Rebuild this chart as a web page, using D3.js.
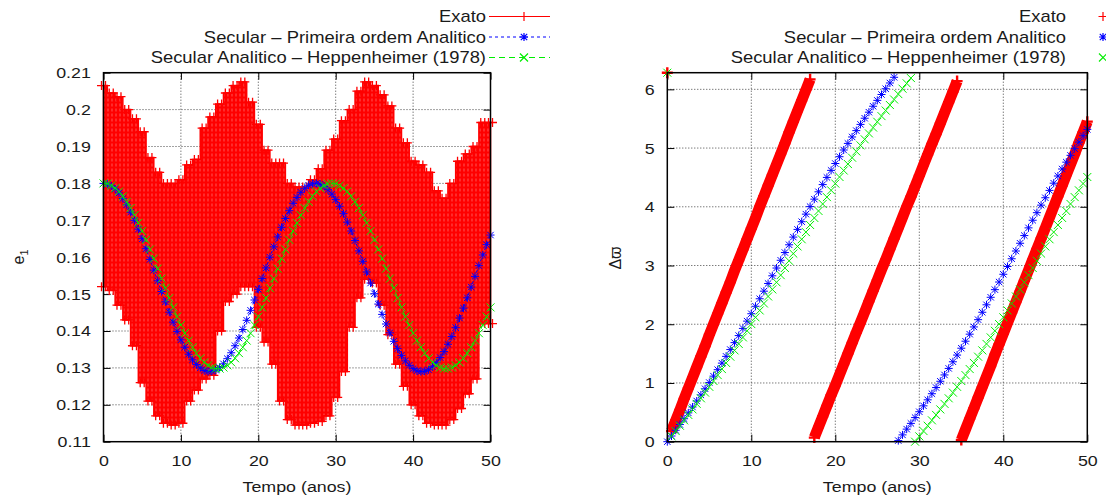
<!DOCTYPE html>
<html>
<head>
<meta charset="utf-8">
<script src="https://cdn.jsdelivr.net/npm/d3@7"></script>
<style>
  body { margin: 0; background: #fff; }
  svg text { font-family: 'Liberation Sans', Arial, Helvetica, sans-serif; fill: #1a1a1a; }
</style>
</head>
<body>
<div id="app"></div>
<script>
'use strict'

// amostras no tempo (anos)
const tempo = d3.range(0, 50.01, 0.5)
const tempoExato = d3.range(0, 50.01, 1)

// e1 - secular, primeira ordem analitico
const e1Secular = [
  0.1800, 0.1798, 0.1793, 0.1785, 0.1774, 0.1759, 0.1742, 0.1722, 0.1700, 0.1676,
  0.1650, 0.1623, 0.1594, 0.1565, 0.1536, 0.1507, 0.1479, 0.1451, 0.1424, 0.1399,
  0.1376, 0.1356, 0.1337, 0.1322, 0.1309, 0.1300, 0.1293, 0.1290, 0.1291, 0.1294,
  0.1301, 0.1311, 0.1325, 0.1341, 0.1360, 0.1381, 0.1404, 0.1429, 0.1456, 0.1484,
  0.1513, 0.1542, 0.1571, 0.1600, 0.1628, 0.1655, 0.1681, 0.1705, 0.1726, 0.1746,
  0.1762, 0.1776, 0.1787, 0.1795, 0.1799, 0.1800, 0.1798, 0.1792, 0.1783, 0.1771,
  0.1756, 0.1738, 0.1718, 0.1695, 0.1671, 0.1645, 0.1617, 0.1589, 0.1560, 0.1530,
  0.1501, 0.1473, 0.1445, 0.1419, 0.1395, 0.1372, 0.1352, 0.1334, 0.1319, 0.1307,
  0.1298, 0.1292, 0.1290, 0.1291, 0.1295, 0.1303, 0.1314, 0.1328, 0.1344, 0.1364,
  0.1385, 0.1409, 0.1435, 0.1462, 0.1490, 0.1519, 0.1548, 0.1577, 0.1606, 0.1634,
  0.1660
]

// e1 - Heppenheimer (1978)
const e1Heppenheimer = [
  0.1800, 0.1799, 0.1794, 0.1787, 0.1778, 0.1765, 0.1750, 0.1733, 0.1714, 0.1693,
  0.1671, 0.1647, 0.1621, 0.1596, 0.1569, 0.1542, 0.1516, 0.1489, 0.1464, 0.1439,
  0.1416, 0.1394, 0.1374, 0.1356, 0.1340, 0.1326, 0.1315, 0.1307, 0.1301, 0.1298,
  0.1298, 0.1301, 0.1307, 0.1315, 0.1326, 0.1340, 0.1356, 0.1374, 0.1394, 0.1416,
  0.1439, 0.1464, 0.1489, 0.1516, 0.1542, 0.1569, 0.1596, 0.1621, 0.1647, 0.1671,
  0.1693, 0.1714, 0.1733, 0.1750, 0.1765, 0.1778, 0.1787, 0.1794, 0.1799,
  0.1800, 0.1799, 0.1794, 0.1787, 0.1778, 0.1765, 0.1750, 0.1733, 0.1714, 0.1693,
  0.1671, 0.1647, 0.1621, 0.1596, 0.1569, 0.1542, 0.1516, 0.1489, 0.1464, 0.1439,
  0.1416, 0.1394, 0.1374, 0.1356, 0.1340, 0.1326, 0.1315, 0.1307, 0.1301, 0.1298,
  0.1298, 0.1301, 0.1307, 0.1315, 0.1326, 0.1340, 0.1356, 0.1374, 0.1394, 0.1416,
  0.1439, 0.1464
]

// e1 exato: faixa coberta pela oscilacao rapida (topo e base, a cada ano)
const e1ExatoMax = [
  0.2065, 0.2045, 0.2035, 0.2000, 0.1975, 0.1940, 0.1870, 0.1830, 0.1800, 0.1800,
  0.1810, 0.1850, 0.1865, 0.1950, 0.1980, 0.2015, 0.2045, 0.2065, 0.2075, 0.2020,
  0.1960, 0.1890, 0.1855, 0.1855, 0.1800, 0.1790, 0.1790, 0.1810, 0.1840, 0.1890,
  0.1920, 0.1970, 0.2000, 0.2050, 0.2075, 0.2065, 0.2040, 0.2010, 0.1950, 0.1910,
  0.1860, 0.1850, 0.1830, 0.1780, 0.1760, 0.1800, 0.1860, 0.1880, 0.1900, 0.1965,
  0.1965
]
const e1ExatoMin = [
  0.1520, 0.1510, 0.1470, 0.1430, 0.1360, 0.1260, 0.1210, 0.1170, 0.1150, 0.1145,
  0.1150, 0.1210, 0.1240, 0.1270, 0.1280, 0.1400, 0.1480, 0.1500, 0.1520, 0.1520,
  0.1410, 0.1370, 0.1310, 0.1210, 0.1160, 0.1145, 0.1145, 0.1150, 0.1155, 0.1170,
  0.1220, 0.1290, 0.1410, 0.1490, 0.1540, 0.1530, 0.1470, 0.1390, 0.1310, 0.1250,
  0.1200, 0.1170, 0.1150, 0.1145, 0.1145, 0.1160, 0.1190, 0.1230, 0.1270, 0.1420,
  0.1420
]

// delta varpi (rad), de 0 a 2pi
const dwSecular = [
  0, 0.097, 0.195, 0.293, 0.391, 0.491, 0.591, 0.693, 0.796, 0.901,
  1.007, 1.116, 1.226, 1.338, 1.453, 1.569, 1.687, 1.807, 1.929, 2.053,
  2.179, 2.306, 2.434, 2.563, 2.694, 2.825, 2.957, 3.089, 3.221, 3.353,
  3.484, 3.615, 3.746, 3.875, 4.003, 4.130, 4.255, 4.378, 4.500, 4.620,
  4.737, 4.853, 4.967, 5.079, 5.189, 5.297, 5.403, 5.508, 5.611, 5.712,
  5.812, 5.912, 6.010, 6.108, 6.205, 0.019, 0.116, 0.214, 0.312, 0.411,
  0.510, 0.611, 0.713, 0.817, 0.922, 1.029, 1.137, 1.248, 1.361, 1.475,
  1.592, 1.711, 1.831, 1.954, 2.078, 2.204, 2.331, 2.459, 2.589, 2.719,
  2.851, 2.983, 3.115, 3.247, 3.379, 3.510, 3.641, 3.771, 3.900, 4.028,
  4.154, 4.279, 4.402, 4.524, 4.643, 4.760, 4.876, 4.989, 5.101, 5.210,
  5.318
]
const dwHeppenheimer = [
  6.283, 0.091, 0.181, 0.272, 0.364, 0.456, 0.550, 0.644, 0.739, 0.836,
  0.934, 1.033, 1.134, 1.237, 1.341, 1.448, 1.555, 1.665, 1.776, 1.888,
  2.003, 2.118, 2.235, 2.354, 2.473, 2.593, 2.714, 2.836, 2.958, 3.080,
  3.203, 3.325, 3.447, 3.569, 3.690, 3.810, 3.929, 4.048, 4.165, 4.280,
  4.395, 4.507, 4.618, 4.728, 4.836, 4.942, 5.046, 5.149, 5.250, 5.349,
  5.447, 5.544, 5.639, 5.733, 5.827, 5.919, 6.011, 6.102, 6.192, 0.000,
  0.091, 0.181, 0.272, 0.364, 0.456, 0.550, 0.644, 0.739, 0.836, 0.934,
  1.033, 1.134, 1.237, 1.341, 1.448, 1.555, 1.665, 1.776, 1.888, 2.003,
  2.118, 2.235, 2.354, 2.473, 2.593, 2.714, 2.836, 2.958, 3.080, 3.203,
  3.325, 3.447, 3.569, 3.690, 3.810, 3.929, 4.048, 4.165, 4.280, 4.395,
  4.507
]
const dwExato = [
  6.283, 0.18, 0.36, 0.54, 0.73, 0.91, 1.09, 1.27, 1.45, 1.63,
  1.82, 2.00, 2.18, 2.36, 2.54, 2.72, 2.91, 3.09, 3.27, 3.45,
  3.63, 3.81, 4.00, 4.18, 4.36, 4.54, 4.72, 4.90, 5.08, 5.27,
  5.45, 5.63, 5.81, 5.99, 6.17, 0.07, 0.25, 0.43, 0.61, 0.79,
  0.96, 1.14, 1.32, 1.50, 1.68, 1.86, 2.03, 2.21, 2.39, 2.57,
  2.75, 2.93, 3.10, 3.28, 3.46, 3.64, 3.82, 4.00, 4.17, 4.35,
  4.53, 4.71, 4.89, 5.07, 5.24, 5.42, 5.60, 5.78, 5.96, 6.14,
  0.03, 0.21, 0.39, 0.57, 0.75, 0.93, 1.11, 1.29, 1.48, 1.66,
  1.84, 2.02, 2.20, 2.38, 2.56, 2.74, 2.92, 3.10, 3.28, 3.46,
  3.64, 3.82, 4.00, 4.18, 4.36, 4.54, 4.72, 4.90, 5.09, 5.27,
  5.45
]

const tempoTicks = [0, 10, 20, 30, 40, 50]
const e1Ticks = [0.11, 0.12, 0.13, 0.14, 0.15, 0.16, 0.17, 0.18, 0.19, 0.2, 0.21]
const dwTicks = [0, 1, 2, 3, 4, 5, 6]
const legenda = ['Exato', 'Secular \u2013 Primeira ordem Analitico', 'Secular Analitico \u2013 Heppenheimer (1978)']

const vermelho = '#ff0000'
const azul = '#0000ff'
const verde = '#00ee00'
const stretch = 'scale(1.15,1)'

const svg = d3.select('#app').append('svg')
  .attr('width', 1106)
  .attr('height', 502)

// textura de cruzes para a faixa do exato
const defs = svg.append('defs')
const pat = defs.append('pattern')
  .attr('id', 'cruzes')
  .attr('patternUnits', 'userSpaceOnUse')
  .attr('width', 4).attr('height', 5)
pat.append('rect').attr('width', 4).attr('height', 5).style('fill', '#ff3030')
pat.append('path').attr('d', 'M0,2.5H4M2,0V5')
  .style('stroke', vermelho).style('stroke-width', 2.2)

// simbolos do gnuplot
const simbolo = {
  plus: s => `M${-s},0H${s}M0,${-s}V${s}`,
  cross: s => `M${-s},${-s}L${s},${s}M${-s},${s}L${s},${-s}`,
  star: s => `M${-s},0H${s}M0,${-s}V${s}M${-s * 0.8},${-s * 0.8}L${s * 0.8},${s * 0.8}M${-s * 0.8},${s * 0.8}L${s * 0.8},${-s * 0.8}`
}

function pontos (g, xs, ys, x, y, tipo, tam, cor, larg, dx) {
  g.append('g').selectAll('path')
    .data(ys)
    .enter().append('path')
    .attr('transform', (d, i) => `translate(${x(xs[i]) + (dx || 0)},${y(d)})`)
    .attr('d', simbolo[tipo](tam))
    .style('fill', 'none')
    .style('stroke', cor)
    .style('stroke-width', larg)
}

function moldura (g, x, y, yTicks, yFmt) {
  const [x0, x1] = x.range()
  const [y1, y0] = y.range()
  // grade pontilhada
  const grade = g.append('g')
  grade.selectAll('line.v')
    .data(tempoTicks.filter(d => d > 0 && d < 50))
    .enter().append('line')
    .attr('x1', d => x(d)).attr('x2', d => x(d))
    .attr('y1', y0).attr('y2', y1)
  grade.selectAll('line.h')
    .data(yTicks.filter(d => y(d) > y0 + 1 && y(d) < y1 - 1))
    .enter().append('line')
    .attr('x1', x0).attr('x2', x1)
    .attr('y1', d => y(d)).attr('y2', d => y(d))
  grade.selectAll('line')
    .style('stroke', '#444')
    .style('stroke-width', 1)
    .style('stroke-dasharray', '1,2')

  const eixo = (ax, tx, ty) => {
    const a = g.append('g').attr('transform', `translate(${tx},${ty})`).call(ax)
    a.select('.domain').remove()
    a.selectAll('line').style('stroke', '#000').style('stroke-width', 1)
    a.selectAll('text')
      .attr('transform', stretch)
      .style('font-size', '15.5px')
      .style('fill', '#1a1a1a')
    return a
  }
  eixo(d3.axisBottom(x).tickValues(tempoTicks).tickSize(-7).tickPadding(13), 0, y1)
  eixo(d3.axisTop(x).tickValues(tempoTicks).tickSize(-7).tickFormat(''), 0, y0)
  eixo(d3.axisLeft(y).tickValues(yTicks).tickSize(-7).tickPadding(11).tickFormat(yFmt), x0, 0)
  eixo(d3.axisRight(y).tickValues(yTicks).tickSize(-7).tickFormat(''), x1, 0)
}

function contorno (g, x, y) {
  const [x0, x1] = x.range()
  const [y1, y0] = y.range()
  g.append('rect')
    .attr('x', x0).attr('y', y0)
    .attr('width', x1 - x0).attr('height', y1 - y0)
    .style('fill', 'none')
    .style('stroke', '#000')
    .style('stroke-width', 1.5)
}

function rotuloX (g, x) {
  const [x0, x1] = x.range()
  g.append('text')
    .attr('transform', `translate(${(x0 + x1) / 2},492) ${stretch}`)
    .attr('text-anchor', 'middle')
    .style('font-size', '15.5px')
    .text('Tempo (anos)')
}

function legendaBloco (g, xText, linhas) {
  const base = [22, 42.5, 63]
  const estilos = [
    { cor: vermelho, tipo: 'plus', tam: 4.5, dash: null },
    { cor: azul, tipo: 'star', tam: 4, dash: '3,3' },
    { cor: verde, tipo: 'cross', tam: 4, dash: '6,4' }
  ]
  legenda.forEach((txt, i) => {
    g.append('text')
      .attr('transform', `translate(${xText},${base[i]}) ${stretch}`)
      .attr('text-anchor', 'end')
      .style('font-size', '16px')
      .text(txt)
    const s = estilos[i]
    const cy = base[i] - 5.5
    const mx = linhas ? xText + 38 : xText + 37
    if (linhas) {
      g.append('line')
        .attr('x1', xText + 3).attr('x2', xText + 64)
        .attr('y1', cy).attr('y2', cy)
        .style('stroke', s.cor)
        .style('stroke-width', 1)
        .style('stroke-dasharray', s.dash)
    }
    g.append('path')
      .attr('transform', `translate(${mx},${cy})`)
      .attr('d', simbolo[s.tipo](s.tam))
      .style('fill', 'none').style('stroke', s.cor).style('stroke-width', 1.2)
  })
}

// ---------- painel da esquerda: e1 ----------
const xL = d3.scaleLinear().domain([0, 50]).range([103.5, 490.5])
const yL = d3.scaleLinear().domain([0.11, 0.21]).range([441.7, 72.7])
const gL = svg.append('g')

moldura(gL, xL, yL, e1Ticks, d => String(+d.toFixed(2)))

// exato: faixa preenchida em colunas + cruzes nas bordas
const areaExato = d3.area()
  .curve(d3.curveStep)
  .x((d, i) => xL(tempoExato[i]))
  .y0((d, i) => yL(e1ExatoMin[i]))
  .y1(d => yL(d))
gL.append('path')
  .datum(e1ExatoMax)
  .attr('d', areaExato)
  .style('fill', 'url(#cruzes)')
  .style('stroke', vermelho)
  .style('stroke-width', 1.5)
;[-2, 2].forEach(dx => {
  pontos(gL, tempoExato, e1ExatoMax, xL, yL, 'plus', 4.5, vermelho, 1.3, dx)
  pontos(gL, tempoExato, e1ExatoMin, xL, yL, 'plus', 4.5, vermelho, 1.3, dx)
})

const linhaL = ys => d3.line().x((d, i) => xL(tempo[i])).y(d => yL(d))(ys)
gL.append('path').attr('d', linhaL(e1Secular))
  .style('fill', 'none').style('stroke', azul).style('stroke-width', 1).style('stroke-dasharray', '3,3')
pontos(gL, tempo, e1Secular, xL, yL, 'star', 4, azul, 1)
gL.append('path').attr('d', linhaL(e1Heppenheimer))
  .style('fill', 'none').style('stroke', verde).style('stroke-width', 1).style('stroke-dasharray', '6,4')
pontos(gL, tempo, e1Heppenheimer, xL, yL, 'cross', 4, verde, 1)

contorno(gL, xL, yL)
rotuloX(gL, xL)
const ly = gL.append('text')
  .attr('transform', 'translate(24,257) rotate(-90)')
  .attr('text-anchor', 'middle')
  .style('font-size', '16px')
ly.append('tspan').text('e')
ly.append('tspan').attr('dy', 4).style('font-size', '11px').text('1')
legendaBloco(gL, 486, true)

// ---------- painel da direita: delta varpi ----------
const xR = d3.scaleLinear().domain([0, 50]).range([667.3, 1087.3])
const yR = d3.scaleLinear().domain([0, 2 * Math.PI]).range([441.7, 72.7])
const gR = svg.append('g')

moldura(gR, xR, yR, dwTicks, d => d)

// quebra a serie onde o angulo volta a zero
function trechos (ys) {
  const out = []
  let atual = []
  ys.forEach((d, i) => {
    if (i > 0 && Math.abs(d - ys[i - 1]) > Math.PI) {
      out.push(atual)
      atual = []
    }
    atual.push(i)
  })
  out.push(atual)
  return out
}
trechos(dwExato).forEach(idx => {
  gR.append('path')
    .attr('d', d3.line().x(i => xR(tempo[i])).y(i => yR(dwExato[i]))(idx))
    .style('fill', 'none')
    .style('stroke', vermelho)
    .style('stroke-width', 11)
})
pontos(gR, tempo, dwExato, xR, yR, 'plus', 5.5, vermelho, 2.4)
pontos(gR, tempo, dwSecular, xR, yR, 'star', 4, azul, 1)
pontos(gR, tempo, dwHeppenheimer, xR, yR, 'cross', 4, verde, 1)

contorno(gR, xR, yR)
rotuloX(gR, xR)
gR.append('text')
  .attr('transform', 'translate(621,258) rotate(-90)')
  .attr('text-anchor', 'middle')
  .style('font-size', '16px')
  .text('\u0394\u03d6')
legendaBloco(gR, 1066, false)
</script>
</body>
</html>
